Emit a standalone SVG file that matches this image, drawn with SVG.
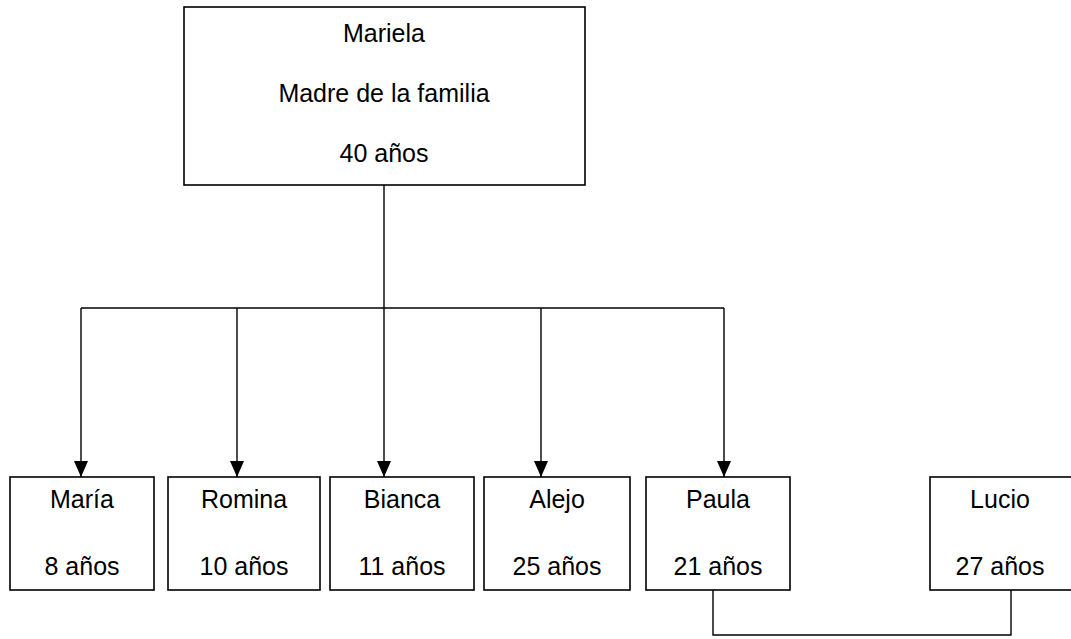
<svg xmlns="http://www.w3.org/2000/svg" width="1071" height="639" viewBox="0 0 1071 639">
<style>
.box{fill:#fff;stroke:#000;stroke-width:1.6}
.t{font-family:"Liberation Sans",Arial,sans-serif;font-size:25px;fill:#000;text-anchor:middle}
.c{fill:none;stroke:#000;stroke-width:1.4}
</style>
<defs>
<marker id="ah" viewBox="0 0 16 14" refX="16" refY="7" markerWidth="16" markerHeight="14" markerUnits="userSpaceOnUse" orient="auto">
<path d="M0,0 L16,7 L0,14 Z" fill="#000"/>
</marker>
</defs>
<rect width="1071" height="639" fill="#fff"/>
<g id="connectors">
<path class="c" d="M384,185 V308"/>
<path class="c" d="M81,308 H724"/>
<path class="c" d="M81,308 V477" marker-end="url(#ah)"/>
<path class="c" d="M237,308 V477" marker-end="url(#ah)"/>
<path class="c" d="M384,308 V477" marker-end="url(#ah)"/>
<path class="c" d="M541,308 V477" marker-end="url(#ah)"/>
<path class="c" d="M724,308 V477" marker-end="url(#ah)"/>
<path class="c" d="M713,590 V635 H1011 V590"/>
</g>
<g id="mariela">
<rect class="box" x="184" y="7" width="401" height="178"/>
<text class="t" x="384" y="42">Mariela</text>
<text class="t" x="384" y="102">Madre de la familia</text>
<text class="t" x="384" y="162">40 años</text>
</g>
<g id="maria">
<rect class="box" x="10" y="477" width="144" height="113"/>
<text class="t" x="82" y="508">María</text>
<text class="t" x="82" y="575">8 años</text>
</g>
<g id="romina">
<rect class="box" x="168" y="477" width="152" height="113"/>
<text class="t" x="244" y="508">Romina</text>
<text class="t" x="244" y="575">10 años</text>
</g>
<g id="bianca">
<rect class="box" x="330" y="477" width="144" height="113"/>
<text class="t" x="402" y="508">Bianca</text>
<text class="t" x="402" y="575">11 años</text>
</g>
<g id="alejo">
<rect class="box" x="484" y="477" width="146" height="113"/>
<text class="t" x="557" y="508">Alejo</text>
<text class="t" x="557" y="575">25 años</text>
</g>
<g id="paula">
<rect class="box" x="646" y="477" width="144" height="113"/>
<text class="t" x="718" y="508">Paula</text>
<text class="t" x="718" y="575">21 años</text>
</g>
<g id="lucio">
<rect class="box" x="930" y="477" width="145" height="113"/>
<text class="t" x="1000" y="508">Lucio</text>
<text class="t" x="1000" y="575">27 años</text>
</g>
</svg>
